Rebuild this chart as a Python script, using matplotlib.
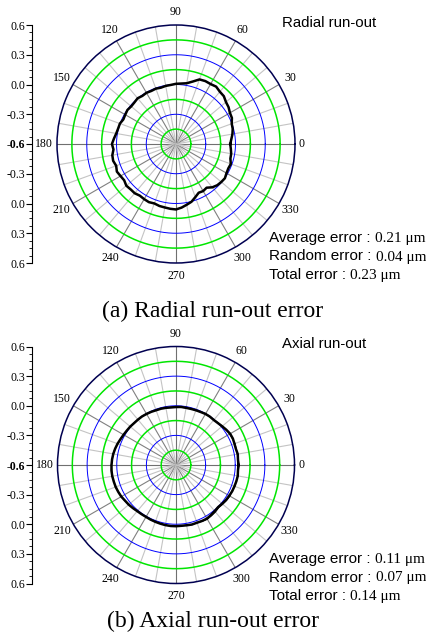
import numpy as np
import matplotlib.pyplot as plt
from matplotlib.ticker import MultipleLocator

# sampling angles of the run-out traces (deg)
angle_deg = np.arange(0, 360, 5)

# radial run-out trace (um, on the -0.6 .. 0.6 radial scale)
radial_runout = [
    -0.053, -0.040, -0.022, -0.008, -0.002, 0.022, 0.028, 0.047, 0.058, 0.082,
    0.088, 0.106, 0.098, 0.100, 0.093, 0.052, 0.022, 0.012, 0.007, -0.002,
    -0.005, -0.012, -0.006, -0.010, -0.004, -0.008, 0.002, -0.007, -0.010, -0.002,
    -0.009, -0.014, 0.002, 0.004, 0.012, 0.028, 0.046, 0.033, 0.052, 0.056,
    0.042, 0.058, 0.046, 0.038, 0.054, 0.047, 0.048, 0.036, 0.042, 0.047,
    0.038, 0.047, 0.050, 0.056, 0.060, 0.044, 0.022, 0.003, -0.030, -0.058,
    -0.052, -0.062, -0.030, -0.012, -0.004, 0.002, -0.012, -0.018, -0.012, -0.032,
    -0.035, -0.045,
]

# axial run-out, main revolution and a second overlapping revolution
axial_runout = [
    0.033, 0.030, 0.035, 0.028, 0.030, 0.035, 0.033, 0.022, 0.010, 0.000,
    -0.005, -0.002, -0.003, -0.008, -0.010, -0.012, -0.012, -0.010, -0.013, -0.015,
    -0.012, -0.010, -0.010, -0.006, -0.003, 0.000, 0.000, 0.000, 0.005, 0.008,
    0.013, 0.020, 0.030, 0.038, 0.045, 0.050, 0.053, 0.056, 0.055, 0.052,
    0.050, 0.045, 0.040, 0.030, 0.025, 0.017, 0.010, 0.008, 0.007, 0.010,
    0.012, 0.015, 0.018, 0.020, 0.020, 0.018, 0.020, 0.024, 0.022, 0.025,
    0.027, 0.018, 0.010, 0.003, 0.010, 0.018, 0.023, 0.028, 0.030, 0.033,
    0.035, 0.030,
]
axial_runout_2 = [
    0.038, 0.034, 0.030, 0.032, 0.036, 0.030, 0.028, 0.020, 0.012, 0.004,
    -0.002, -0.004, -0.001, -0.006, -0.012, -0.010, -0.014, -0.012, -0.010, -0.012,
    -0.014, -0.008, -0.012, -0.004, -0.005, 0.002, -0.002, 0.003, 0.006, 0.006,
    0.015, 0.022, 0.027, 0.040, 0.048, 0.047, 0.056, 0.052, 0.058, 0.050,
    0.053, 0.043, 0.037, 0.033, 0.022, 0.019, 0.012, 0.006, 0.009, 0.008,
    0.014, 0.013, 0.020, 0.018, 0.022, 0.020, 0.017, 0.026, 0.020, 0.030,
    0.034, 0.028, 0.022, 0.012, 0.018, 0.026, 0.030, 0.024, 0.034, 0.030,
    0.038, 0.034,
]

ring_green = [-0.45, -0.15, 0.15, 0.45]
ring_blue = [-0.3, 0.0, 0.3]
angle_labels = [0, 30, 60, 90, 120, 150, 180, 210, 240, 270, 300, 330]
left_ticks = [-1.2, -0.9, -0.6, -0.3, 0.0, 0.3, 0.6, 0.9, 1.2]
left_labels = ['0.6', '0.3', '0.0', '-0.3', '-0.6', '-0.3', '0.0', '0.3', '0.6']

radial_stats = [('Average error : ', '0.21 \u03bcm'),
                ('Random error : ', '0.04 \u03bcm'),
                ('Total error : ', '0.23 \u03bcm')]
axial_stats = [('Average error : ', '0.11 \u03bcm'),
               ('Random error : ', '0.07 \u03bcm'),
               ('Total error : ', '0.14 \u03bcm')]

SERIF = 'Liberation Serif'
SANS = 'Liberation Sans'
W, H = 427, 636

fig = plt.figure(figsize=(W / 100, H / 100), dpi=100)
renderer = fig.canvas.get_renderer()


def close(vals):
    return np.append(vals, vals[0])


def panel(cx, cy, R, traces, title, stats, caption, cap_y):
    ax = fig.add_axes([(cx - R) / W, 1 - (cy + R) / H, 2 * R / W, 2 * R / H],
                      projection='polar')
    ax.set_ylim(-0.6, 0.6)
    ax.grid(False)
    ax.set_xticks([])
    ax.set_yticks([])
    ax.spines['polar'].set_color('#000050')
    ax.spines['polar'].set_linewidth(1.1)

    th = np.linspace(0, 2 * np.pi, 400)
    for a in range(0, 360, 10):
        if a % 90 == 0:
            c = '#707070'
        elif a % 30 == 0:
            c = '#808080'
        else:
            c = '#c4c4c4'
        ax.plot([np.radians(a)] * 2, [-0.6, 0.6], color=c, lw=0.8, zorder=1)
    for r in ring_green:
        ax.plot(th, np.full_like(th, r), color='#00e600', lw=1.1, zorder=2)
    for r in ring_blue:
        ax.plot(th, np.full_like(th, r), color='#0000ff', lw=0.7, zorder=2)

    for a in angle_labels:
        rr = 0.67 if a == 0 else 0.73
        ax.text(np.radians(a), rr, str(a), ha='center', va='center',
                family=SERIF, fontsize=8.5, clip_on=False)

    t = np.radians(close(angle_deg.astype(float)))
    for i, tr in enumerate(traces):
        ax.plot(t, close(tr), color='black', lw=1.8 if i == 0 else 0.7,
                zorder=4 - i * 0.5)

    # left radial scale
    lax = fig.add_axes([32 / W, 1 - (cy + R) / H, 0.001, 2 * R / H])
    lax.set_ylim(-1.2, 1.2)
    for s in ['right', 'top', 'bottom']:
        lax.spines[s].set_visible(False)
    lax.patch.set_visible(False)
    lax.set_xticks([])
    lax.set_yticks(left_ticks)
    lax.set_yticklabels(left_labels, family=SERIF, fontsize=8.5)
    lax.yaxis.set_minor_locator(MultipleLocator(0.075))
    lax.tick_params(axis='y', which='major', length=4, width=0.8, pad=1)
    lax.tick_params(axis='y', which='minor', length=2, width=0.6)
    lax.get_yticklabels()[4].set_fontweight('bold')

    fig.text((cx + 106) / W, 1 - (cy - 121) / H, title, family=SANS,
             fontsize=10.8, va='center', ha='left')

    inv = fig.transFigure.inverted()
    for k, (lab, val) in enumerate(stats):
        yb = 1 - (cy + 98 + k * 18.5) / H
        t1 = fig.text(269 / W, yb, lab, family=SANS, fontsize=11, va='baseline')
        bb = t1.get_window_extent(renderer)
        x1 = inv.transform((bb.x1, bb.y0))[0]
        fig.text(x1, yb, val, family=SERIF, fontsize=11, va='baseline')

    fig.text(213 / W, 1 - cap_y / H, caption, family=SERIF, fontsize=17,
             ha='center', va='center')


panel(176, 144, 119, [radial_runout], 'Radial run-out', radial_stats,
      '(a) Radial run-out error', 311)
panel(176, 465, 118.5, [axial_runout, axial_runout_2], 'Axial run-out',
      axial_stats, '(b) Axial run-out error', 621)

fig.savefig('out.png', dpi=100)
